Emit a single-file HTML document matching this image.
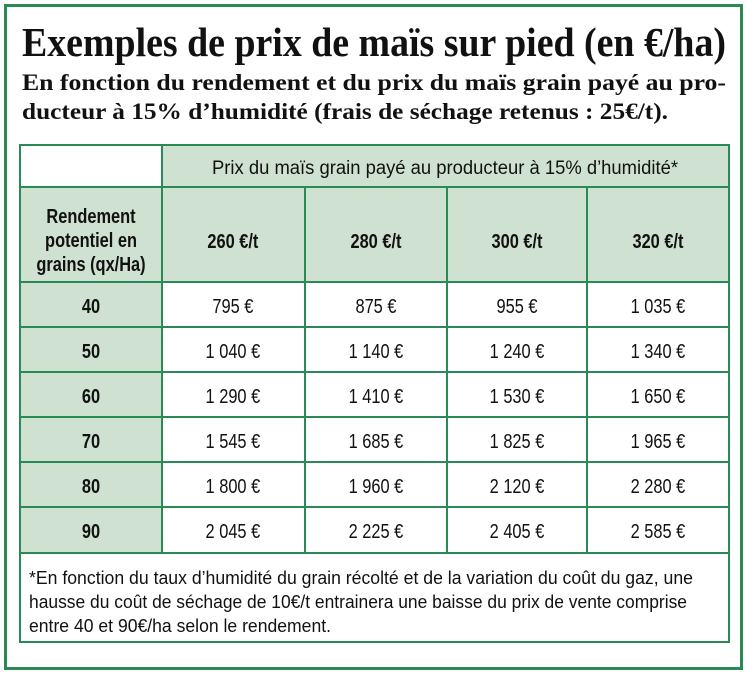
<!DOCTYPE html>
<html><head><meta charset="utf-8"><style>body{margin:0;background:#fff}svg{display:block}</style></head>
<body>
<svg width="747" height="674" xmlns="http://www.w3.org/2000/svg">
<rect x="0" y="0" width="747" height="674" fill="#fff"/>
<rect x="5.5" y="5.5" width="736" height="663" fill="none" stroke="#2a8a55" stroke-width="3"/>
<g font-family="Liberation Serif, serif" font-weight="bold" fill="#111">
<text x="22" y="56" font-size="41" textLength="704" lengthAdjust="spacingAndGlyphs">Exemples de prix de maïs sur pied (en €/ha)</text>
<text x="22" y="90" font-size="23" textLength="704" lengthAdjust="spacingAndGlyphs">En fonction du rendement et du prix du maïs grain payé au pro-</text>
<text x="22" y="119" font-size="23" textLength="646" lengthAdjust="spacingAndGlyphs">ducteur à 15% d’humidité (frais de séchage retenus : 25€/t).</text>
</g>
<rect x="162" y="145" width="567" height="137" fill="#cfe2d2"/>
<rect x="20" y="187" width="142" height="366" fill="#cfe2d2"/>
<g stroke="#2a8a55" stroke-width="2" fill="none">
<rect x="20" y="145" width="709" height="497"/>
<line x1="162" y1="145" x2="162" y2="553"/>
<line x1="305" y1="187" x2="305" y2="553"/>
<line x1="447" y1="187" x2="447" y2="553"/>
<line x1="587" y1="187" x2="587" y2="553"/>
<line x1="20" y1="187" x2="729" y2="187"/>
<line x1="20" y1="282" x2="729" y2="282"/>
<line x1="20" y1="327" x2="729" y2="327"/>
<line x1="20" y1="372" x2="729" y2="372"/>
<line x1="20" y1="417" x2="729" y2="417"/>
<line x1="20" y1="462" x2="729" y2="462"/>
<line x1="20" y1="507" x2="729" y2="507"/>
<line x1="20" y1="553" x2="729" y2="553"/>
</g>
<g font-family="Liberation Sans, sans-serif" fill="#111" text-anchor="middle">
<text x="445" y="174" font-size="19" textLength="466" lengthAdjust="spacingAndGlyphs">Prix du maïs grain payé au producteur à 15% d’humidité*</text>
<g transform="scale(0.82,1)" font-size="20">
<g font-weight="bold">
<text x="111" y="223">Rendement</text>
<text x="111" y="247">potentiel en</text>
<text x="111" y="271">grains (qx/Ha)</text>
<text x="284" y="248">260 €/t</text>
<text x="458.5" y="248">280 €/t</text>
<text x="630.5" y="248">300 €/t</text>
<text x="802.4" y="248">320 €/t</text>
<text x="111" y="313">40</text>
<text x="111" y="358">50</text>
<text x="111" y="403">60</text>
<text x="111" y="448">70</text>
<text x="111" y="493">80</text>
<text x="111" y="538">90</text>
</g>
<g>
<text x="284" y="313">795 €</text><text x="458.5" y="313">875 €</text><text x="630.5" y="313">955 €</text><text x="802.4" y="313">1 035 €</text>
<text x="284" y="358">1 040 €</text><text x="458.5" y="358">1 140 €</text><text x="630.5" y="358">1 240 €</text><text x="802.4" y="358">1 340 €</text>
<text x="284" y="403">1 290 €</text><text x="458.5" y="403">1 410 €</text><text x="630.5" y="403">1 530 €</text><text x="802.4" y="403">1 650 €</text>
<text x="284" y="448">1 545 €</text><text x="458.5" y="448">1 685 €</text><text x="630.5" y="448">1 825 €</text><text x="802.4" y="448">1 965 €</text>
<text x="284" y="493">1 800 €</text><text x="458.5" y="493">1 960 €</text><text x="630.5" y="493">2 120 €</text><text x="802.4" y="493">2 280 €</text>
<text x="284" y="538">2 045 €</text><text x="458.5" y="538">2 225 €</text><text x="630.5" y="538">2 405 €</text><text x="802.4" y="538">2 585 €</text>
</g>
</g>
<g text-anchor="start" font-size="18">
<text x="29" y="584" textLength="664" lengthAdjust="spacingAndGlyphs">*En fonction du taux d’humidité du grain récolté et de la variation du coût du gaz, une</text>
<text x="29" y="608" textLength="658" lengthAdjust="spacingAndGlyphs">hausse du coût de séchage de 10€/t entrainera une baisse du prix de vente comprise</text>
<text x="29" y="632" textLength="302" lengthAdjust="spacingAndGlyphs">entre 40 et 90€/ha selon le rendement.</text>
</g>
</g>
</svg>
</body></html>
